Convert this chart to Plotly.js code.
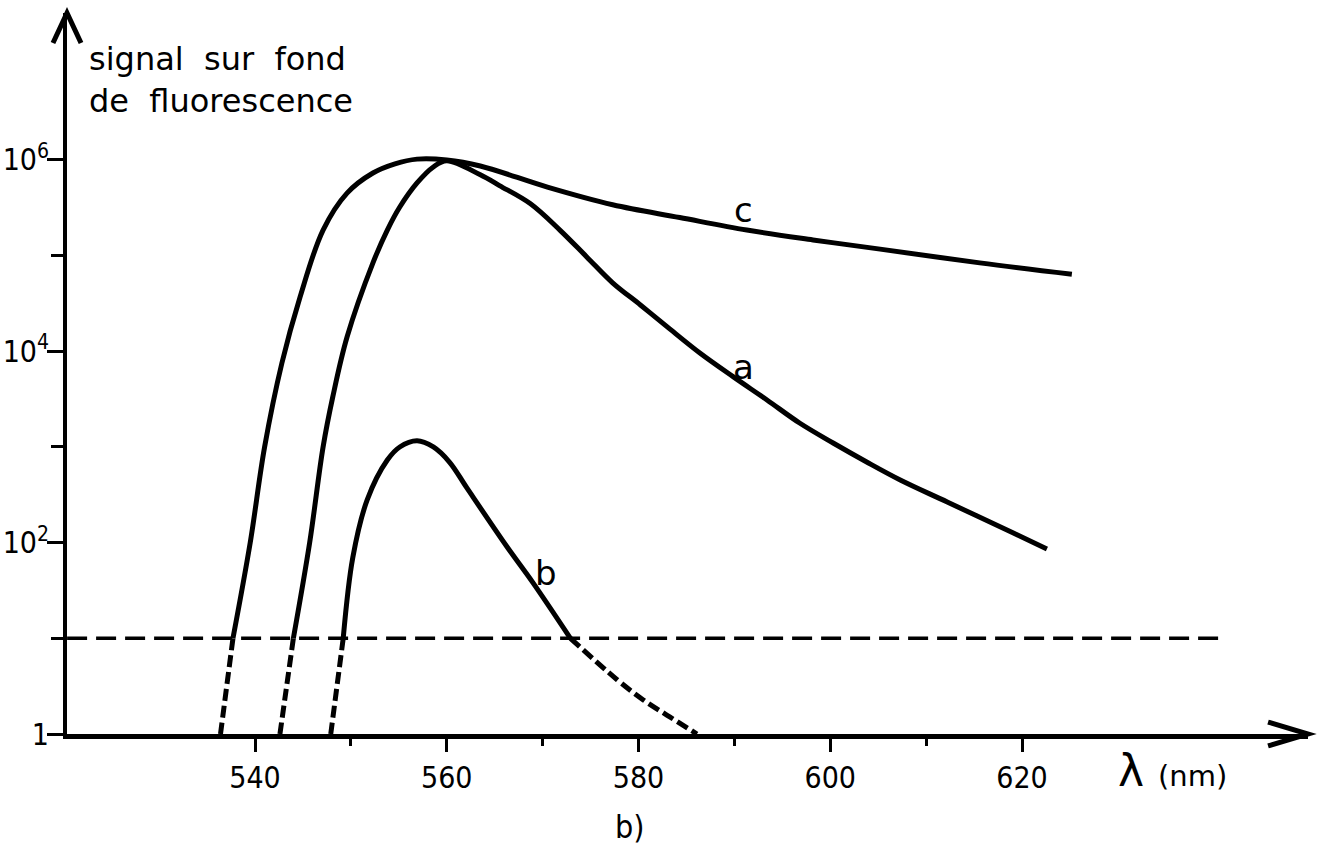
<!DOCTYPE html>
<html>
<head>
<meta charset="utf-8">
<script src="https://cdn.plot.ly/plotly-3.0.1.min.js"></script>
<style>html,body{margin:0;padding:0;background:#fff;}</style>
</head>
<body>
<div id="chart" style="width:1322px;height:846px;"></div>
<script>
// Wavelength (nm) and signal values
const lamA = [544.0, 545.7, 547.1, 548.1, 549.6, 552.3, 553.8, 555.1, 556.9, 558.6, 560.0, 563.5, 565.5, 568.7, 571.8, 574.6, 577.3, 580.2, 583.0, 586.4, 589.9, 593.4, 596.8, 600.3, 603.8, 607.3, 612.2, 619.1, 622.6];
const sigA = [10, 100, 1000, 3300, 14100, 84000, 185000, 322000, 575000, 845000, 980000, 700000, 540000, 350000, 185000, 97000, 52000, 30500, 18000, 9600, 5400, 3100, 1780, 1100, 697, 452, 266, 126, 86];
const lamAdash = [544.0, 542.6];
const sigAdash = [10, 1];

const lamB = [549.2, 550.2, 551.7, 553.8, 555.1, 556.9, 558.6, 560.3, 562.1, 566.3, 569.0, 572.9];
const sigB = [10, 70, 280, 730, 1000, 1160, 1000, 692, 373, 90, 38, 10];
const lamBdashL = [549.2, 547.9];
const sigBdashL = [10, 1];
const lamBdashR = [572.9, 577.8, 580.5, 583.3, 586.1];
const sigBdashR = [10, 3.67, 2.27, 1.5, 1];

const lamC = [537.7, 539.5, 541.0, 542.8, 544.7, 547.1, 549.6, 552.3, 554.6, 556.9, 560.0, 563.5, 570.5, 577.3, 584.3, 591.3, 598.2, 605.2, 615.6, 625.2];
const sigC = [10, 100, 1000, 7500, 37000, 185000, 450000, 730000, 910000, 1020000, 1000000, 865000, 520000, 340000, 250000, 185000, 146000, 117000, 84000, 64000];
const lamCdash = [537.7, 536.4];
const sigCdash = [10, 1];

const thresholdLam = [520.4, 640.9];
const thresholdSig = [10, 10];

const xTickVals = [540, 560, 580, 600, 620];
const xMinorVals = [550, 570, 590, 610];
const yTickVals = [1, 100, 1e4, 1e6];
const yTickText = ['1', '10<sup>2</sup>', '10<sup>4</sup>', '10<sup>6</sup>'];
const yMinorVals = [10, 1000, 1e5];

const curveLabels = ['a', 'b', 'c'];
const curveLabelLam = [590.9, 570.3, 590.9];
const curveLabelSig = [6860, 48, 300000];

const FONT = 'DejaVu Sans Condensed, DejaVu Sans, sans-serif';
const FONT_W = 'DejaVu Sans, sans-serif';
const solid = {color: '#000', width: 5, shape: 'spline', smoothing: 1};
const dashed = {color: '#000', width: 5, dash: '12px,5px'};

const traces = [
  {x: lamA, y: sigA, mode: 'lines', line: solid, name: 'a'},
  {x: lamAdash, y: sigAdash, mode: 'lines', line: dashed, name: 'a ext'},
  {x: lamB, y: sigB, mode: 'lines', line: solid, name: 'b'},
  {x: lamBdashL, y: sigBdashL, mode: 'lines', line: dashed, name: 'b ext L'},
  {x: lamBdashR, y: sigBdashR, mode: 'lines', line: Object.assign({}, dashed, {shape: 'spline', smoothing: 1}), name: 'b ext R'},
  {x: lamC, y: sigC, mode: 'lines', line: solid, name: 'c'},
  {x: lamCdash, y: sigCdash, mode: 'lines', line: dashed, name: 'c ext'},
  {x: thresholdLam, y: thresholdSig, mode: 'lines', line: {color: '#000', width: 3.5, dash: '20px,9px'}, name: 'seuil'}
];

const annotations = curveLabels.map((t, i) => ({
  x: curveLabelLam[i], y: Math.log10(curveLabelSig[i]), xref: 'x', yref: 'y',
  text: t, showarrow: false, font: {family: FONT_W, size: 34, color: '#000'}
}));
annotations.push({
  xref: 'paper', yref: 'paper', x: 0.016, y: 0.965, xanchor: 'left', yanchor: 'top', align: 'left',
  text: 'signal  sur  fond<br>de  fluorescence', showarrow: false,
  font: {family: FONT_W, size: 32, color: '#000'}
});
annotations.push({
  xref: 'paper', yref: 'paper', x: 0.845, y: -0.05, xanchor: 'left', yanchor: 'middle',
  text: 'λ <span style="font-size:29px">(nm)</span>', showarrow: false,
  font: {family: FONT_W, size: 44, color: '#000'}
});
annotations.push({
  xref: 'paper', yref: 'paper', x: 0.4537, y: -0.129, xanchor: 'center', yanchor: 'middle',
  text: 'b)', showarrow: false,
  font: {family: FONT, size: 32, color: '#000'}
});

const layout = {
  width: 1322, height: 846,
  margin: {l: 67, r: 14, t: 13, b: 112},
  paper_bgcolor: '#fff', plot_bgcolor: '#fff',
  showlegend: false,
  font: {family: FONT, color: '#000'},
  xaxis: {
    range: [520.39, 649.83], showline: true, linewidth: 5, linecolor: '#000',
    showgrid: false, zeroline: false, ticks: 'outside', tickvals: xTickVals,
    ticklen: 13, tickwidth: 3, tickcolor: '#000', ticklabelstandoff: 0,
    tickfont: {family: FONT, size: 30, color: '#000'},
    minor: {tickvals: xMinorVals, ticks: 'outside', ticklen: 7, tickwidth: 3, tickcolor: '#000', showgrid: false}
  },
  yaxis: {
    type: 'log', range: [0, 7.536], showline: true, linewidth: 4, linecolor: '#000',
    showgrid: false, zeroline: false, ticks: 'outside', tickvals: yTickVals, ticktext: yTickText,
    ticklen: 16, tickwidth: 3, tickcolor: '#000', ticklabelstandoff: -8,
    tickfont: {family: FONT, size: 30, color: '#000'},
    minor: {tickvals: yMinorVals, ticks: 'outside', ticklen: 12, tickwidth: 3, tickcolor: '#000', showgrid: false}
  },
  shapes: [
    {type: 'path', xref: 'paper', yref: 'paper', path: 'M 0.9678 0.0166 L 1 0 L 0.9678 -0.0166', line: {color: '#000', width: 5}},
    {type: 'path', xref: 'paper', yref: 'paper', path: 'M -0.0113 0.9584 L 0 1 L 0.0113 0.9584', line: {color: '#000', width: 5}}
  ],
  annotations: annotations
};

Plotly.newPlot('chart', traces, layout, {displayModeBar: false, staticPlot: true});
</script>
</body>
</html>
